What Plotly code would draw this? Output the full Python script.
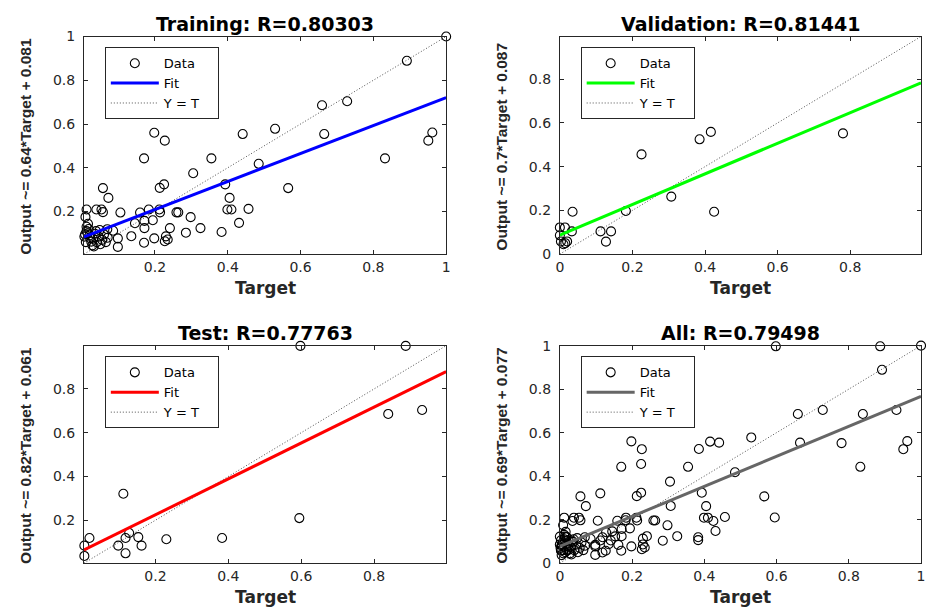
import plotly.graph_objects as go

# ---------------- data ----------------
train_target = [1.000, 0.892, 0.659, 0.728, 0.665, 0.530, 0.441, 0.962, 0.951, 0.832,
                0.198, 0.227, 0.170, 0.355, 0.485, 0.305, 0.393, 0.566, 0.225, 0.213,
                0.057, 0.072, 0.405, 0.457, 0.399, 0.410, 0.431, 0.325, 0.383, 0.285,
                0.298, 0.259, 0.264, 0.241, 0.230, 0.235, 0.227, 0.198, 0.170, 0.098,
                0.098, 0.135, 0.085, 0.069, 0.105, 0.159, 0.183, 0.212, 0.214, 0.145,
                0.171, 0.194, 0.171, 0.012, 0.039, 0.053, 0.057, 0.009, 0.016,
                0.003, 0.008, 0.012, 0.006, 0.015, 0.020, 0.010, 0.004, 0.025, 0.030,
                0.018, 0.035, 0.040, 0.045, 0.050, 0.028, 0.055, 0.060, 0.065, 0.022,
                0.012, 0.038, 0.048, 0.070, 0.002, 0.032]
train_output = [1.000, 0.889, 0.686, 0.704, 0.554, 0.578, 0.554, 0.561, 0.524, 0.443,
                0.560, 0.524, 0.443, 0.443, 0.418, 0.375, 0.324, 0.307, 0.324, 0.308,
                0.307, 0.262, 0.262, 0.212, 0.209, 0.209, 0.148, 0.124, 0.106, 0.103,
                0.174, 0.196, 0.196, 0.124, 0.086, 0.072, 0.064, 0.077, 0.057, 0.038,
                0.077, 0.087, 0.112, 0.119, 0.195, 0.195, 0.209, 0.209, 0.196, 0.146,
                0.157, 0.160, 0.124, 0.209, 0.209, 0.209, 0.197, 0.175, 0.144,
                0.105, 0.095, 0.110, 0.085, 0.100, 0.090, 0.060, 0.058, 0.062, 0.075,
                0.120, 0.098, 0.060, 0.085, 0.050, 0.045, 0.070, 0.095, 0.060, 0.078,
                0.130, 0.110, 0.115, 0.080, 0.070, 0.040]

val_target = [0.780, 0.416, 0.385, 0.225, 0.307, 0.425, 0.182, 0.035, 0.112, 0.141,
              0.127, 0.033, 0.000, 0.014, 0.000, 0.003, 0.020, 0.010, 0.015]
val_output = [0.552, 0.559, 0.525, 0.456, 0.263, 0.194, 0.197, 0.194, 0.104, 0.104,
              0.057, 0.104, 0.122, 0.122, 0.086, 0.058, 0.058, 0.045, 0.050]

test_target = [0.598, 0.887, 0.839, 0.932, 0.183, 0.112, 0.595, 0.383, 0.230, 0.019,
               0.128, 0.118, 0.153, 0.162, 0.098, 0.118, 0.005, 0.005]
test_output = [0.997, 0.997, 0.686, 0.704, 0.686, 0.321, 0.210, 0.119, 0.113, 0.119,
               0.142, 0.119, 0.123, 0.084, 0.084, 0.049, 0.084, 0.037]

all_target = train_target + val_target + test_target
all_output = train_output + val_output + test_output

panel_names = ["Training", "Validation", "Test", "All"]
r_values = ["0.80303", "0.81441", "0.77763", "0.79498"]
fit_slopes = [0.64, 0.7, 0.82, 0.69]
fit_intercepts = [0.081, 0.087, 0.061, 0.077]
fit_colors = ["#0000ff", "#00ff00", "#ff0000", "#666666"]
axis_ranges = [[0.005, 1.0], [0.0, 0.995], [0.004, 0.998], [0.0, 1.0]]
legend_labels = ["Data", "Fit", "Y = T"]
targets = [train_target, val_target, test_target, all_target]
outputs = [train_output, val_output, test_output, all_output]

# ---------------- layout geometry ----------------
W, H = 926, 614
px_x = [(80.7, 446.0), (560.7, 925.0), (80.7, 446.0), (560.7, 925.0)]
px_y = [(29.3, 252.7), (29.3, 252.7), (346.7, 570.0), (346.7, 570.0)]

fig = go.Figure()
annotations = []
layout = {}
legend_names = ["legend", "legend2", "legend3", "legend4"]
pad = "\u00a0" * 3

for i in range(4):
    xa = "x" if i == 0 else f"x{i+1}"
    ya = "y" if i == 0 else f"y{i+1}"
    lg = legend_names[i]
    lo, hi = axis_ranges[i]
    m, b = fit_slopes[i], fit_intercepts[i]

    fig.add_trace(go.Scatter(
        x=[lo, hi], y=[lo, hi], mode="lines", name=legend_labels[2] + pad,
        line=dict(color="#505050", width=1, dash="1px,2px"),
        xaxis=xa, yaxis=ya, legend=lg, legendrank=3, hoverinfo="skip"))
    fig.add_trace(go.Scatter(
        x=targets[i], y=outputs[i], mode="markers", name=legend_labels[0],
        marker=dict(symbol="circle-open", size=9, color="black",
                    line=dict(width=1.1, color="black")),
        xaxis=xa, yaxis=ya, legend=lg, legendrank=1, cliponaxis=False))
    fig.add_trace(go.Scatter(
        x=[lo, hi], y=[m * lo + b, m * hi + b], mode="lines", name=legend_labels[1],
        line=dict(color=fit_colors[i], width=3),
        xaxis=xa, yaxis=ya, legend=lg, legendrank=2))

    x0, x1 = px_x[i]
    y0, y1 = px_y[i]
    xd = [x0 / W, x1 / W]
    yd = [1 - y1 / H, 1 - y0 / H]
    axkw = dict(range=[lo, hi], dtick=0.2, tick0=0, showgrid=False, zeroline=False,
                showline=True, linecolor="#262626", linewidth=1, mirror="ticks",
                ticks="inside", ticklen=4, tickcolor="#262626",
                tickfont=dict(family="DejaVu Sans", size=14, color="#262626"))
    layout["xaxis" if i == 0 else f"xaxis{i+1}"] = dict(domain=xd, anchor=ya, **axkw)
    layout["yaxis" if i == 0 else f"yaxis{i+1}"] = dict(domain=yd, anchor=xa,
                                                        ticklabelstandoff=5, **axkw)

    cx = (x0 + x1) / 2 / W
    annotations.append(dict(
        text=f"<b>{panel_names[i]}: R={r_values[i]}</b>", x=cx, y=1 - (y0 - 13) / H,
        xref="paper", yref="paper", showarrow=False, xanchor="center", yanchor="middle",
        font=dict(family="DejaVu Sans", size=19, color="black")))
    annotations.append(dict(
        text="<b>Target</b>", x=cx, y=1 - (y1 + 35) / H,
        xref="paper", yref="paper", showarrow=False, xanchor="center", yanchor="middle",
        font=dict(family="DejaVu Sans", size=17, color="#262626")))
    annotations.append(dict(
        text=f"<b>Output ~= {m}*Target + {b}</b>", x=(x0 - 59) / W,
        y=1 - ((y0 + y1) / 2 + 1) / H, textangle=-90,
        xref="paper", yref="paper", showarrow=False, xanchor="center", yanchor="middle",
        font=dict(family="Liberation Sans, Arial", size=15.5, color="#262626")))

    layout[lg] = dict(
        x=(x0 + 21) / W, y=1 - (y0 + 11) / H, xanchor="left", yanchor="top",
        bgcolor="white", bordercolor="#262626", borderwidth=1,
        font=dict(family="DejaVu Sans", size=13, color="black"),
        tracegroupgap=0, itemwidth=48, traceorder="normal")

fig.update_layout(
    width=W, height=H, margin=dict(l=0, r=0, t=0, b=0),
    paper_bgcolor="white", plot_bgcolor="white",
    annotations=annotations, showlegend=True, **layout)

fig.write_html("out.html")
